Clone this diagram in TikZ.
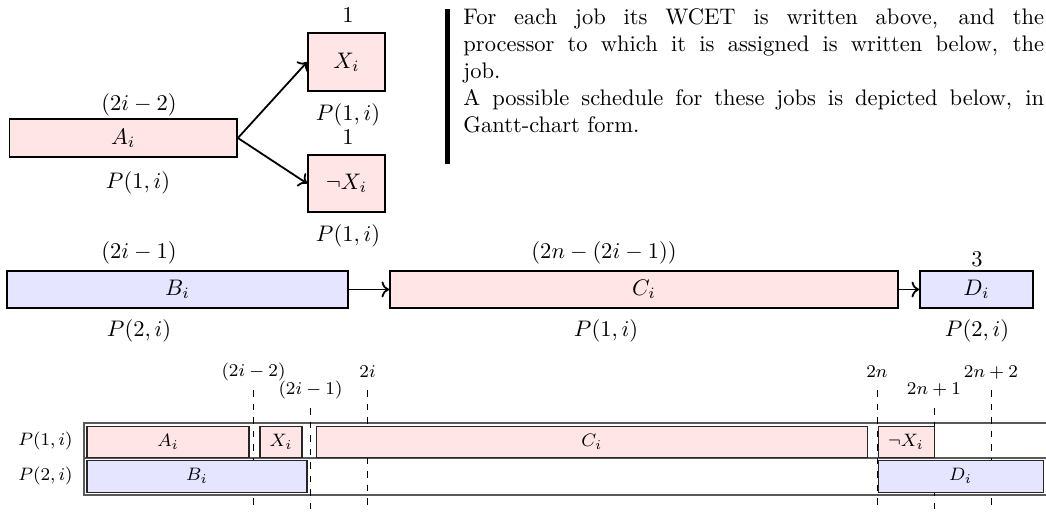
\documentclass[tikz,border=0pt]{standalone}
\usetikzlibrary{arrows.meta}
\newdimen\pu \pu=0.4444pt
\begin{document}
\begin{tikzpicture}[x=0.4444pt,y=-0.4444pt,
  jobbox/.style={draw=black, thick, inner sep=0pt, minimum width=#1},
  redjob/.style={jobbox=#1, fill=red!10},
  bluejob/.style={jobbox=#1, fill=blue!10},
  gjob/.style={draw=black!85, line width=0.45pt, inner sep=0pt, font=\footnotesize, minimum width=#1},
  gred/.style={gjob=#1, fill=red!10, minimum height=31.5\pu},
  gblue/.style={gjob=#1, fill=blue!10, minimum height=32\pu},
  lab/.style={anchor=base, inner sep=0pt},
  tlab/.style={anchor=base, inner sep=0pt, font=\footnotesize},
  flow/.style={->, thick},
  frame/.style={draw=black!65, line width=0.6pt},
  tick/.style={dashed, line width=0.4pt}]
\clip (0,0) rectangle (1046,511);
\fill[white] (0,0) rectangle (1046,511);
% ---------- top: job graph ----------
\node[redjob=227.5\pu, minimum height=38\pu] (A) at (123.25,138) {$A_i$};
\node[redjob=77\pu, minimum height=58\pu] (X) at (346.5,62) {$X_i$};
\node[redjob=77\pu, minimum height=57\pu] (NX) at (346.5,183.5) {$\neg X_i$};
\node[lab] (Aw) at (139,110) {$(2i-2)$};
\node[lab] (Ap) at (138,188.5) {$P(1,i)$};
\node[lab] (Xw) at (348,22) {$1$};
\node[lab] (Xp) at (348,120.5) {$P(1,i)$};
\node[lab] (NXw) at (348,144) {$1$};
\node[lab] (NXp) at (348,241) {$P(1,i)$};
\draw[flow] (A.east) -- (X.west);
\draw[flow] (A.east) -- (NX.west);
% ---------- description ----------
\coordinate (bartop) at (447.5,9);
\coordinate (barbot) at (447.5,164);
\draw[line width=2pt] (bartop) -- (barbot);
\node[anchor=north west, text width=258pt, inner sep=0pt, align=justify] (txt) at (463,8.5)
 {For each job its WCET is written above, and the\linebreak processor to which it is assigned is written below, the\linebreak job.\\A possible schedule for these jobs is depicted below, in\linebreak Gantt-chart form.};
% ---------- middle row ----------
\node[bluejob=341\pu, minimum height=37\pu] (B) at (177.5,289.5) {$B_i$};
\node[redjob=508\pu, minimum height=37\pu] (C) at (644,289.5) {$C_i$};
\node[bluejob=113\pu, minimum height=37\pu] (D) at (976.5,289.5) {$D_i$};
\node[lab] (Bw) at (139,258.5) {$(2i-1)$};
\node[lab] (Bp) at (139,336) {$P(2,i)$};
\node[lab] (Cw) at (604,258.5) {$(2n-(2i-1))$};
\node[lab] (Cp) at (606,336) {$P(1,i)$};
\node[lab] (Dw) at (977,266) {$3$};
\node[lab] (Dp) at (977,336) {$P(2,i)$};
\draw[flow] (B.east) -- (C.west);
\draw[flow] (C.east) -- (D.west);
% ---------- Gantt chart ----------
\node[anchor=east, inner sep=0pt, font=\footnotesize] (r1) at (73,440.5) {$P(1,i)$};
\node[anchor=east, inner sep=0pt, font=\footnotesize] (r2) at (73,476) {$P(2,i)$};
\draw[frame] (84,423) rectangle (1060,458);
\draw[frame] (84,458) rectangle (1060,495);
% time labels
\node[tlab] (t0) at (253.5,376.5) {$(2i-2)$};
\node[tlab] (t1) at (310.5,394) {$(2i-1)$};
\node[tlab] (t2) at (367.5,377) {$2i$};
\node[tlab] (t3) at (877,377) {$2n$};
\node[tlab] (t4) at (934,394) {$2n+1$};
\node[tlab] (t5) at (991,377) {$2n+2$};
\foreach \t/\x/\y in {t0/253.5/390, t1/310.5/408, t2/367.5/390, t3/877/390, t4/934/408, t5/991/390}{
  \coordinate (\t top) at (\x,\y);
  \coordinate (\t bot) at (\x,511);
  \draw[tick] (\t top) -- (\t bot);
}
% scheduled jobs
\node[gred=162\pu] (gA) at (168,441.75) {$A_i$};
\node[gred=42\pu] (gX) at (281,441.75) {$X_i$};
\node[gred=550.5\pu] (gC) at (591.75,441.75) {$C_i$};
\node[gred=56\pu] (gNX) at (906,441.75) {$\neg X_i$};
\node[gblue=220\pu] (gB) at (197,476) {$B_i$};
\node[gblue=165\pu] (gD) at (960.5,476) {$D_i$};
\end{tikzpicture}
\end{document}
